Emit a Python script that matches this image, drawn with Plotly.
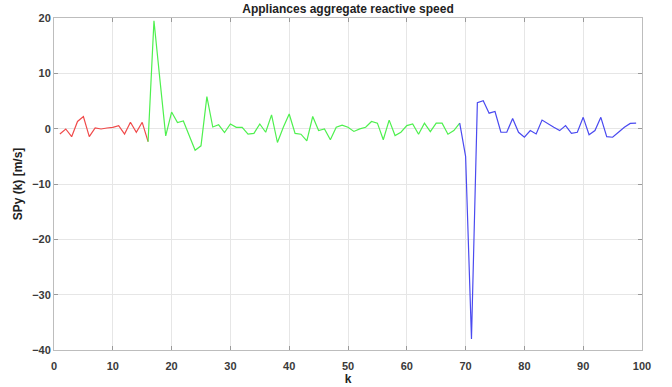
import plotly.graph_objects as go

k_red = list(range(1, 17))
y_red = [-0.96, -0.06, -1.45, 1.3, 2.17, -1.45, 0.12, -0.06, 0.12, 0.24, 0.54, -0.96, 1.15, -0.66, 1.15, -2.35]

k_green = list(range(16, 70))
y_green = [-2.35, 19.5, 9.0, -1.3, 3.0, 1.1, 1.4, -1.3, -3.9, -3.1, 5.8, 0.3, 0.7, -0.7, 0.85,
           0.25, 0.25, -1.0, -0.85, 0.85, -0.65, 2.5, -2.5, 0.25, 2.65, -0.85, -1.0, -2.2, 2.2,
           -0.35, -0.05, -2.0, 0.25, 0.65, 0.25, -0.5, -0.05, 0.25, 1.3, 1.0, -2.0, 1.55, -1.25,
           -0.65, 0.55, 0.85, -1.0, 1.0, -0.55, 1.0, 1.0, -1.0, -0.35, 1.0]

k_blue = list(range(69, 100))
y_blue = [1.0, -5.0, -38.0, 4.7, 5.05, 2.8, 3.1, -0.65, -0.65, 1.85, -0.65, -1.55, -0.35, -0.95,
          1.55, 0.85, 0.25, -0.35, 0.55, -0.85, -0.65, 2.05, -1.1, -0.35, 2.05, -1.45, -1.55,
          -0.65, 0.25, 0.95, 1.0]

x_ticks = [0, 10, 20, 30, 40, 50, 60, 70, 80, 90, 100]
y_ticks = [-40, -30, -20, -10, 0, 10, 20]

fig = go.Figure()
fig.add_trace(go.Scatter(x=k_red, y=y_red, mode="lines", line=dict(color="#f04a4a", width=1.2)))
fig.add_trace(go.Scatter(x=k_green, y=y_green, mode="lines", line=dict(color="#4ef04e", width=1.2)))
fig.add_trace(go.Scatter(x=k_blue, y=y_blue, mode="lines", line=dict(color="#4a4af0", width=1.2)))

FONT = "Liberation Sans, Arial, sans-serif"

axis_common = dict(
    showgrid=True, gridcolor="#e6e6e6", gridwidth=1,
    showline=True, linecolor="#bdbdbd", linewidth=1, mirror="ticks",
    ticks="inside", ticklen=4, tickcolor="#9a9a9a",
    zeroline=False, automargin=False,
    tickfont=dict(family=FONT, size=11, color="#3a3a3a", weight="bold"),
)

fig.update_layout(
    width=672, height=387,
    margin=dict(l=54, r=30, t=18, b=37),
    plot_bgcolor="white", paper_bgcolor="white",
    showlegend=False,
    title=dict(text="<b>Appliances aggregate reactive speed</b>", x=348/672, xanchor="center",
               y=1 - 9/387, yanchor="middle", yref="container",
               font=dict(family=FONT, size=12, color="#222222")),
    xaxis=dict(range=[0, 100], tickvals=x_ticks, ticklabelstandoff=6,
               title=dict(text="<b>k</b>", standoff=2,
                          font=dict(family=FONT, size=12, color="#222222")),
               **axis_common),
    yaxis=dict(range=[-40, 20], tickvals=y_ticks,
               title=dict(text="<b>SPy (k) [m/s]</b>", standoff=6,
                          font=dict(family=FONT, size=12, color="#222222")),
               **axis_common),
)

fig.write_html("out.html")
